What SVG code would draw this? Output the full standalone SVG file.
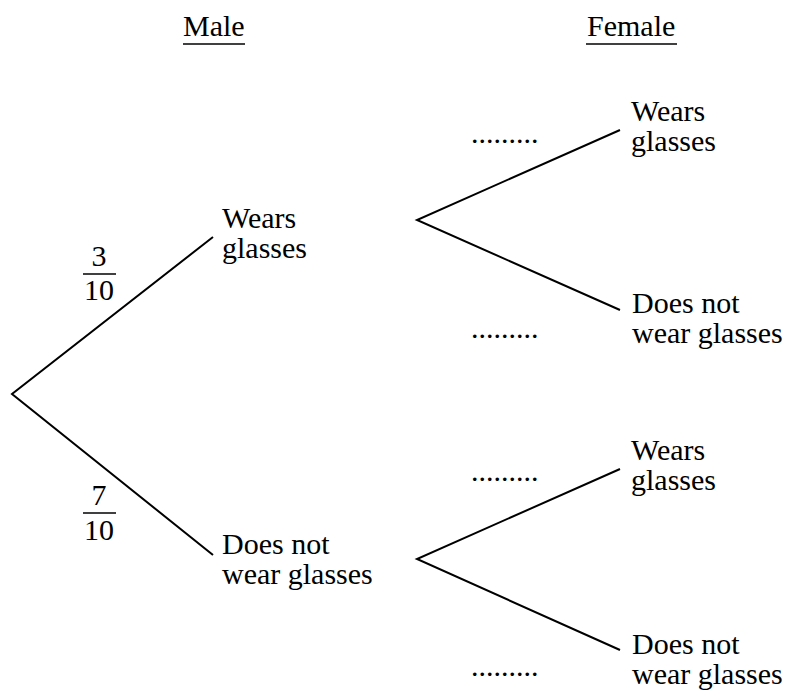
<svg xmlns="http://www.w3.org/2000/svg" width="790" height="700" viewBox="0 0 790 700">
<style>
text{font-family:"Liberation Serif","Times New Roman",serif;font-size:30px;fill:#000}
.c{text-anchor:middle}
.ln{stroke:#000;stroke-width:2;fill:none}
.bar{stroke:#000;stroke-width:1.6}
</style>
<rect width="790" height="700" fill="#fff"/>
<g id="headers">
<text x="183" y="36">Male</text>
<line class="bar" x1="183" y1="44" x2="245" y2="44"/>
<text x="587" y="36">Female</text>
<line class="bar" x1="586" y1="44" x2="677" y2="44"/>
</g>
<g id="connectors">
<polyline class="ln" points="213,237 12,394 213,555"/>
<polyline class="ln" points="620,130 417,220 620,310"/>
<polyline class="ln" points="620,469 417,559 620,650"/>
</g>
<g id="p1">
<text class="c" x="99" y="266">3</text>
<line class="bar" x1="83" y1="274" x2="116" y2="274"/>
<text class="c" x="99" y="300">10</text>
</g>
<g id="p2">
<text class="c" x="99" y="505">7</text>
<line class="bar" x1="83" y1="513" x2="116" y2="513"/>
<text class="c" x="99" y="540">10</text>
</g>
<g id="m-wears"><text x="222" y="228">Wears</text><text x="222" y="258">glasses</text></g>
<g id="m-not"><text x="222" y="554">Does not</text><text x="222" y="584">wear glasses</text></g>
<g id="f1-wears"><text x="631" y="121">Wears</text><text x="631" y="151">glasses</text></g>
<g id="f1-not"><text x="632" y="313">Does not</text><text x="632" y="343">wear glasses</text></g>
<g id="f2-wears"><text x="631" y="460">Wears</text><text x="631" y="490">glasses</text></g>
<g id="f2-not"><text x="632" y="654">Does not</text><text x="632" y="684">wear glasses</text></g>
<g id="blanks">
<text x="471" y="143">.........</text>
<text x="471" y="338">.........</text>
<text x="471" y="481">.........</text>
<text x="471" y="676">.........</text>
</g>
</svg>
